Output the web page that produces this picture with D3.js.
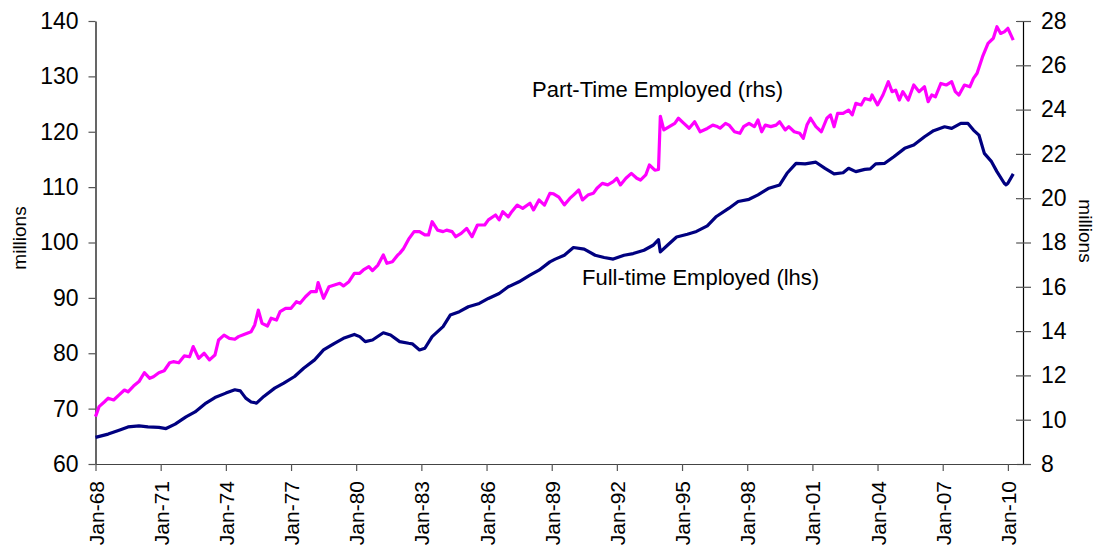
<!DOCTYPE html>
<html>
<head>
<meta charset="utf-8">
<script src="https://cdn.jsdelivr.net/npm/d3@7/dist/d3.min.js"></script>
<style>
  html, body { margin: 0; padding: 0; background: #fff; }
  svg { display: block; font-family: "Liberation Sans", Arial, sans-serif; }
</style>
</head>
<body>
<svg id="chart" width="1096" height="547"></svg>
<script>
// ---------- DATA ----------
const xTickLabels = ["Jan-68","Jan-71","Jan-74","Jan-77","Jan-80","Jan-83","Jan-86","Jan-89","Jan-92","Jan-95","Jan-98","Jan-01","Jan-04","Jan-07","Jan-10"];
const leftTicks = [60, 70, 80, 90, 100, 110, 120, 130, 140];
const rightTicks = [8, 10, 12, 14, 16, 18, 20, 22, 24, 26, 28];

// Full-time employed (lhs, millions)
const fullTimeDates = ["1968-01","1968-08","1969-02","1969-07","1970-01","1970-06","1970-12","1971-04","1971-09","1972-03","1972-08","1973-02","1973-07","1974-01","1974-06","1974-09","1974-12","1975-03","1975-06","1975-10","1976-04","1976-09","1977-03","1977-08","1978-02","1978-07","1979-01","1979-06","1979-12","1980-03","1980-06","1980-10","1981-04","1981-08","1982-01","1982-06","1982-08","1982-12","1983-03","1983-07","1984-01","1984-05","1984-10","1985-03","1985-09","1986-02","1986-08","1987-01","1987-07","1988-01","1988-06","1988-12","1989-03","1989-08","1990-01","1990-07","1991-01","1991-06","1991-11","1992-05","1992-10","1993-04","1993-09","1993-12","1994-01","1994-05","1994-10","1995-04","1995-09","1996-03","1996-08","1997-03","1997-08","1998-02","1998-07","1999-01","1999-07","1999-11","2000-04","2000-09","2001-03","2001-08","2002-01","2002-06","2002-09","2003-01","2003-06","2003-09","2003-12","2004-05","2004-10","2005-04","2005-09","2006-03","2006-08","2007-02","2007-06","2007-11","2008-03","2008-06","2008-09","2008-12","2009-04","2009-07","2009-11","2009-12","2010-01","2010-04"];
const fullTimeValues = [64.8,65.4,66.1,66.7,66.9,66.7,66.6,66.4,67.2,68.5,69.4,71.0,72.0,72.8,73.4,73.2,71.9,71.2,71.0,72.2,73.7,74.6,75.8,77.3,78.8,80.6,81.8,82.7,83.4,83.0,82.1,82.4,83.7,83.3,82.1,81.8,81.7,80.6,80.9,83.0,84.8,86.9,87.5,88.4,89.0,89.9,90.8,92.0,92.9,94.1,95.0,96.5,97.0,97.7,99.1,98.8,97.7,97.3,97.0,97.7,98.0,98.6,99.5,100.5,98.3,99.5,101.0,101.5,102.0,103.0,104.7,106.2,107.4,107.8,108.6,109.8,110.4,112.5,114.3,114.2,114.5,113.4,112.4,112.6,113.4,112.8,113.2,113.3,114.2,114.3,115.5,117.0,117.6,119.1,120.2,120.9,120.6,121.5,121.5,120.3,119.4,116.1,114.6,112.8,110.7,110.4,110.7,112.4];

// Part-time employed (rhs, millions)
const partTimeDates = ["1968-01","1968-03","1968-06","1968-08","1968-11","1969-02","1969-05","1969-07","1969-10","1970-01","1970-04","1970-07","1970-09","1970-12","1971-03","1971-06","1971-08","1971-11","1972-02","1972-05","1972-07","1972-10","1973-01","1973-04","1973-07","1973-09","1973-12","1974-03","1974-06","1974-08","1974-11","1975-03","1975-05","1975-07","1975-09","1975-12","1976-02","1976-05","1976-07","1976-10","1977-01","1977-04","1977-06","1977-09","1977-12","1978-03","1978-04","1978-07","1978-10","1979-01","1979-04","1979-06","1979-09","1979-12","1980-03","1980-05","1980-08","1980-10","1981-01","1981-04","1981-06","1981-09","1981-12","1982-01","1982-03","1982-06","1982-09","1982-12","1983-03","1983-05","1983-07","1983-10","1984-01","1984-03","1984-06","1984-08","1984-11","1985-02","1985-05","1985-08","1985-12","1986-02","1986-06","1986-08","1986-10","1987-01","1987-03","1987-06","1987-09","1988-01","1988-03","1988-06","1988-09","1988-12","1989-02","1989-05","1989-08","1989-11","1990-01","1990-04","1990-06","1990-09","1990-12","1991-02","1991-05","1991-08","1991-11","1992-01","1992-03","1992-06","1992-09","1992-12","1993-02","1993-05","1993-07","1993-10","1993-12","1994-01","1994-03","1994-06","1994-09","1994-11","1995-02","1995-05","1995-08","1995-11","1996-03","1996-06","1996-08","1996-10","1997-01","1997-03","1997-06","1997-09","1997-11","1998-02","1998-05","1998-07","1998-09","1998-11","1999-02","1999-05","1999-07","1999-10","1999-12","2000-03","2000-06","2000-08","2000-10","2000-12","2001-03","2001-06","2001-09","2001-11","2002-01","2002-03","2002-06","2002-09","2002-11","2003-01","2003-04","2003-06","2003-09","2003-10","2004-01","2004-04","2004-07","2004-09","2004-11","2005-01","2005-03","2005-06","2005-09","2005-12","2006-03","2006-05","2006-07","2006-09","2006-12","2007-03","2007-06","2007-08","2007-10","2008-01","2008-04","2008-06","2008-08","2008-11","2009-02","2009-05","2009-07","2009-09","2009-11","2010-01","2010-04"];
const partTimeValues = [10.14,10.59,10.81,10.97,10.89,11.12,11.34,11.26,11.52,11.72,12.12,11.87,11.94,12.12,12.21,12.57,12.62,12.57,12.88,12.84,13.3,12.77,13.0,12.7,12.92,13.6,13.82,13.67,13.63,13.75,13.85,13.97,14.28,14.95,14.35,14.23,14.58,14.5,14.88,15.03,15.03,15.33,15.26,15.55,15.78,15.78,16.19,15.48,16.0,16.08,16.16,16.04,16.23,16.61,16.61,16.76,16.91,16.73,16.98,17.44,17.06,17.13,17.44,17.51,17.7,18.15,18.49,18.49,18.34,18.34,18.94,18.56,18.49,18.56,18.49,18.26,18.41,18.64,18.26,18.79,18.79,19.02,19.24,19.02,19.39,19.16,19.39,19.69,19.54,19.77,19.47,19.92,19.69,20.22,20.2,20.05,19.7,19.99,20.14,20.37,19.92,20.14,20.22,20.45,20.67,20.6,20.75,20.9,20.6,20.9,21.12,20.9,20.82,21.05,21.5,21.27,21.3,23.7,23.08,23.23,23.38,23.61,23.38,23.16,23.45,23.0,23.15,23.3,23.25,23.16,23.38,23.3,23.0,22.93,23.23,23.38,23.23,23.53,23.0,23.3,23.23,23.3,23.45,23.08,23.23,23.0,22.93,22.7,23.3,23.61,23.23,23.0,23.61,23.76,23.23,23.83,23.83,23.98,23.76,24.28,24.21,24.5,24.43,24.66,24.21,24.66,25.26,24.81,24.88,24.43,24.81,24.43,25.11,24.81,25.03,24.36,24.66,24.58,25.18,25.11,25.26,24.81,24.66,25.11,25.03,25.41,25.64,26.39,26.99,27.22,27.74,27.44,27.51,27.67,27.14];

// ---------- CHART ----------
const svg = d3.select("#chart");
const parse = d3.timeParse("%Y-%m");
const plot = { left: 95.5, right: 1023, top: 21, bottom: 464 };

const x = d3.scaleTime()
  .domain([parse("1968-01"), new Date(2010, 8, 12)])
  .range([plot.left, plot.right]);
const yL = d3.scaleLinear().domain([60, 140]).range([plot.bottom, plot.top]);
const yR = d3.scaleLinear().domain([8, 28]).range([plot.bottom, plot.top]);

const fontFam = "'Liberation Sans', Arial, sans-serif";

// left axis
const gL = svg.append("g").attr("transform", `translate(${plot.left},0)`)
  .call(d3.axisLeft(yL).tickValues(leftTicks).tickSize(7).tickSizeOuter(0).tickPadding(10));
// right axis (ticks cross)
const gR = svg.append("g").attr("transform", `translate(${plot.right},0)`)
  .call(d3.axisRight(yR).tickValues(rightTicks).tickSize(8).tickSizeOuter(0).tickPadding(10));
gR.selectAll(".tick line").attr("x1", -7).attr("x2", 8);

// bottom axis: "Jan-68" -> Jan 1968 (two-digit years 50-99 are 19xx)
const monthIdx = {Jan:0,Feb:1,Mar:2,Apr:3,May:4,Jun:5,Jul:6,Aug:7,Sep:8,Oct:9,Nov:10,Dec:11};
const tickDates = xTickLabels.map(s => {
  const [m, yy] = s.split("-");
  const n = +yy;
  return new Date(n >= 50 ? 1900 + n : 2000 + n, monthIdx[m], 1);
});
const gB = svg.append("g").attr("transform", `translate(0,${plot.bottom})`)
  .call(d3.axisBottom(x).tickValues(tickDates).tickFormat((d, i) => xTickLabels[i]).tickSize(7).tickSizeOuter(0));
gB.selectAll(".tick text")
  .attr("transform", "rotate(-90)")
  .attr("text-anchor", "end")
  .attr("x", -17)
  .attr("y", 0)
  .attr("dy", "0.36em")
  .attr("dx", 0);

[gL, gR, gB].forEach(g => {
  g.select(".domain").attr("stroke", "#000").attr("stroke-width", 1.2);
  g.selectAll(".tick line").attr("stroke", "#555").attr("stroke-width", 1.2);
  g.selectAll(".tick text").attr("fill", "#000").style("font-family", fontFam);
});
gL.selectAll(".tick text").style("font-size", "23px");
gR.selectAll(".tick text").style("font-size", "23px");
gB.selectAll(".tick text").style("font-size", "21px");
gB.select(".domain").attr("stroke", "#444");

// axis titles
svg.append("text")
  .attr("transform", "translate(26,238) rotate(-90)")
  .attr("text-anchor", "middle")
  .style("font-family", fontFam).style("font-size", "19px")
  .text("millions");
svg.append("text")
  .attr("transform", "translate(1079,231) rotate(90)")
  .attr("text-anchor", "middle")
  .style("font-family", fontFam).style("font-size", "19px")
  .text("millions");

// lines
const ftData = fullTimeDates.map((d, i) => ({ date: parse(d), value: fullTimeValues[i] }));
const ptData = partTimeDates.map((d, i) => ({ date: parse(d), value: partTimeValues[i] }));

svg.append("path")
  .datum(ptData)
  .attr("fill", "none")
  .attr("stroke", "#FF00FF")
  .attr("stroke-width", 3.2)
  .attr("stroke-linejoin", "round")
  .attr("d", d3.line().x(d => x(d.date)).y(d => yR(d.value)));

svg.append("path")
  .datum(ftData)
  .attr("fill", "none")
  .attr("stroke", "#000080")
  .attr("stroke-width", 3.2)
  .attr("stroke-linejoin", "round")
  .attr("d", d3.line().x(d => x(d.date)).y(d => yL(d.value)));

// annotations
svg.append("text")
  .attr("x", 532).attr("y", 97)
  .style("font-family", fontFam).style("font-size", "22px")
  .text("Part-Time Employed (rhs)");
svg.append("text")
  .attr("x", 582).attr("y", 285)
  .style("font-family", fontFam).style("font-size", "22px")
  .text("Full-time Employed (lhs)");
</script>
</body>
</html>
